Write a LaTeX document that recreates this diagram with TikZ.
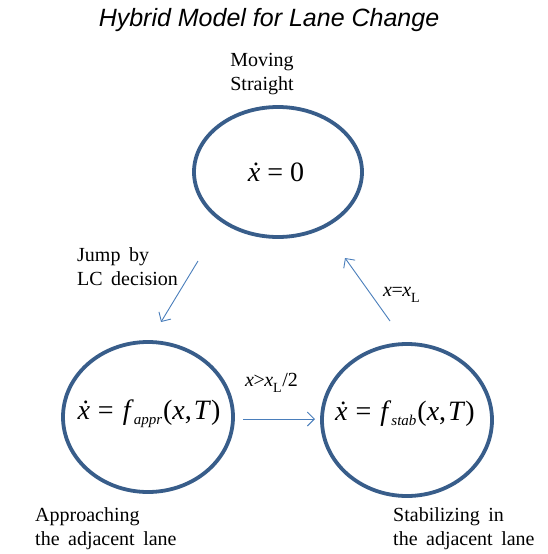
\documentclass[tikz,border=0pt]{standalone}
\usepackage{fontspec}
\setmainfont{Liberation Serif}
\newfontfamily\titlefont{Liberation Sans}
\newfontfamily\lblfont[WordSpace=1.7]{Liberation Serif}
\usetikzlibrary{arrows.meta,shapes.geometric}
\definecolor{ellblue}{HTML}{385D8A}
\definecolor{arrblue}{HTML}{4A7EBB}
\tikzset{
  stateline/.style={draw=ellblue, line width=3.8pt},
  trans/.style={draw=arrblue, line width=0.9pt, -{Straight Barb[length=7pt,width=14pt,line width=0.9pt]}},
  lbl/.style={font=\lblfont\fontsize{20}{24}\selectfont, inner sep=0pt},
  eq/.style={font=\fontsize{28}{30}\selectfont, inner sep=0pt},
}
\newcommand{\xd}{\textit{ẋ}}
\newcommand{\subsc}[1]{\raisebox{-5pt}{\fontsize{15}{15}\selectfont\textit{#1}}}
\begin{document}
\begin{tikzpicture}[x=1pt,y=-1pt]
\useasboundingbox (0,0) rectangle (547,554);
\node[font=\titlefont\itshape\fontsize{25}{28}\selectfont] (title) at (269,20) {Hybrid Model for Lane Change};
\draw[stateline] (278,172) ellipse [x radius=84, y radius=65];
\draw[stateline] (148,417) ellipse [x radius=85, y radius=75];
\draw[stateline] (407,420) ellipse [x radius=85, y radius=76];
\node[eq] (e1) at (276,172) {\xd\ = 0};
\node[eq] (e2) at (149,414) {\xd\hspace{8pt}=\hspace{9pt}\textit{f}\subsc{appr}\kern1pt(\textit{x},\kern2pt\textit{T})};
\node[eq] (e3) at (405,414) {\xd\hspace{8pt}=\hspace{9pt}\textit{f}\subsc{stab}\kern1pt(\textit{x},\kern2pt\textit{T})};
\node[lbl, align=center] (ms) at (262,74) {Moving\\Straight};
\node[lbl, align=left, anchor=west] (jump) at (77,267) {Jump by\\LC decision};
\node[lbl, align=left, anchor=west] (appr) at (35,529) {Approaching\\the adjacent lane};
\node[lbl, align=left, anchor=west] (stab) at (393,529) {Stabilizing in\\the adjacent lane};
\node[lbl, anchor=west] (c1) at (245,383) {\textit{x}{\kern-0.5pt}>{\kern-0.5pt}\textit{x}\textsubscript{\raisebox{-3pt}{L}}/2};
\node[lbl, anchor=west] (c2) at (383,295) {\textit{x}{\kern-0.5pt}={\kern-0.5pt}\textit{x}\textsubscript{\raisebox{-3pt}{L}}};
\coordinate (a1s) at (198,261);
\coordinate (a1e) at (161,322);
\coordinate (a2s) at (390,321);
\coordinate (a2e) at (345,258);
\coordinate (a3s) at (243,419);
\coordinate (a3e) at (315,419);
\draw[trans] (a1s) -- (a1e);
\draw[trans] (a2s) -- (a2e);
\draw[trans] (a3s) -- (a3e);
\end{tikzpicture}
\end{document}
